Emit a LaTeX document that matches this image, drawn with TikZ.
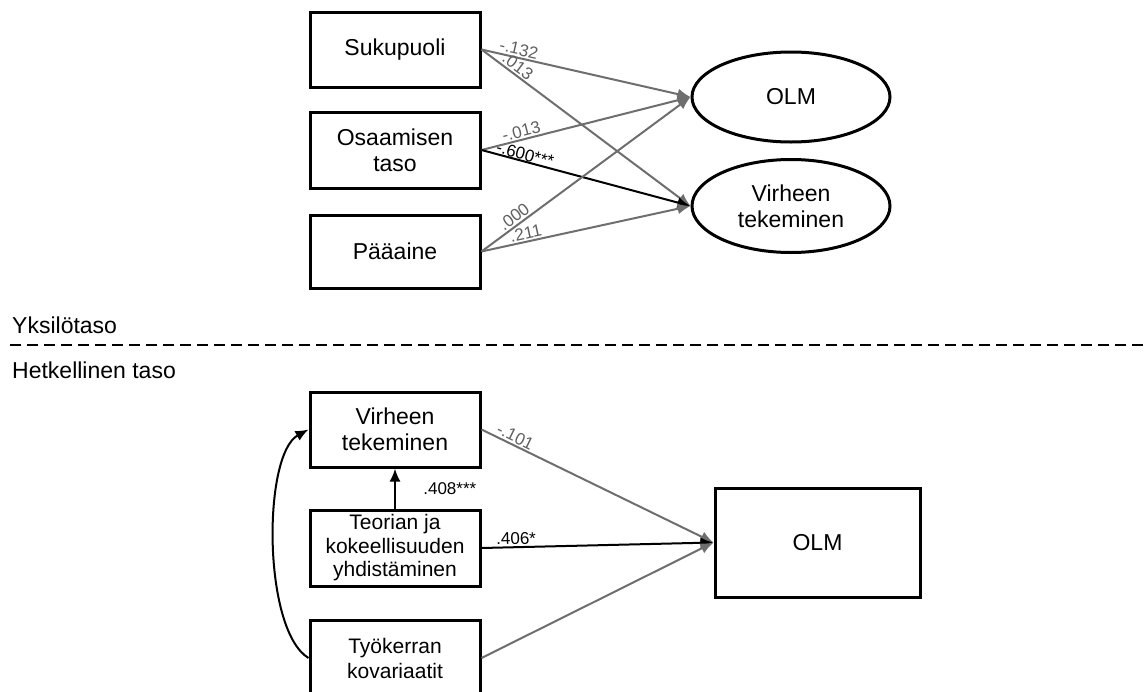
\documentclass[tikz,border=0pt]{standalone}
\usepackage{fontspec}
\setmainfont{Liberation Sans}
\usetikzlibrary{arrows.meta, calc, shapes.geometric}
\definecolor{pathgray}{RGB}{110,110,110}
\definecolor{coefgray}{RGB}{95,95,95}

\begin{document}
\begin{tikzpicture}[x=1pt, y=-1pt,
		box/.style = {draw, line width=3pt, minimum width=170, minimum height=75,
			align=center, inner sep=0pt, font=\fontsize{23}{26}\selectfont},
		latent/.style = {draw, ellipse, line width=3pt, minimum width=198,
			align=center, inner sep=0pt, font=\fontsize{23}{26}\selectfont},
		effect/.style = {draw=pathgray, line width=2pt, -{Latex[length=13pt, width=11pt]}},
		sig/.style = {draw=black, line width=2pt, -{Latex[length=13pt, width=11pt]}},
		coef/.style = {font=\fontsize{17}{19}\selectfont, text=coefgray, sloped, above, inner sep=1.5pt},
		level/.style = {anchor=base west, inner sep=0pt, font=\fontsize{23}{26}\selectfont}]
	\useasboundingbox (0,0) rectangle (1146,691);

	% yksilotaso
	\node[box] (S) at (395, 49.5) {Sukupuoli};
	\node[box, minimum height=76] (O) at (395, 150) {Osaamisen\\taso};
	\node[box, minimum height=73] (P) at (395, 251.5) {Pääaine};
	\node[latent, minimum height=90] (E1) at (791, 97) {OLM};
	\node[latent, minimum height=93] (E2) at (791, 206) {Virheen\\tekeminen};
	\path (S.east) edge[effect] node[coef, pos=.17] {-.132} (E1.west)
		(S.east) edge[effect] node[coef, pos=.15] {.013} (E2.west)
		(O.east) edge[effect] node[coef, pos=.2] {-.013} (E1.west)
		(O.east) edge[sig] node[coef, text=black, pos=.2, inner sep=0pt] {-.600***} (E2.west)
		(P.east) edge[effect] node[coef, pos=.18] {.000} (E1.west)
		(P.east) edge[effect] node[coef, pos=.22] {.211} (E2.west);

	% tasojen raja
	\node[level] (L1) at (12, 333) {Yksilötaso};
	\node[level] (L2) at (12, 378) {Hetkellinen taso};
	\coordinate (divL) at (10, 345);
	\coordinate (divR) at (1146, 345);
	\draw[line width=2.6pt, dash pattern=on 11pt off 6pt] (divL) -- (divR);

	% hetkellinen taso
	\node[box] (V) at (395, 429.5) {Virheen\\tekeminen};
	\node[box, minimum height=76, font=\fontsize{21}{23.5}\selectfont] (T) at (395, 548)
		{Teorian ja\\kokeellisuuden\\yhdistäminen};
	\node[box, minimum height=76, font=\fontsize{21}{25}\selectfont] (K) at (395, 658)
		{Työkerran\\kovariaatit};
	\node[box, minimum width=205, minimum height=109] (M) at (817.5, 542.5) {OLM};
	\path (V.east) edge[effect] node[coef, pos=.13] {-.101} (M.west)
		(T.east) edge[sig] node[coef, text=black, pos=.15] {.406*} (M.west)
		(K.east) edge[effect] (M.west)
		(T.north) edge[sig] node[right=24pt, font=\fontsize{17}{19}\selectfont] {.408***} (V.south);
	\draw[sig] (K.west) .. controls +(-46,-28) and +(-46,25) .. (V.west);
\end{tikzpicture}
\end{document}
